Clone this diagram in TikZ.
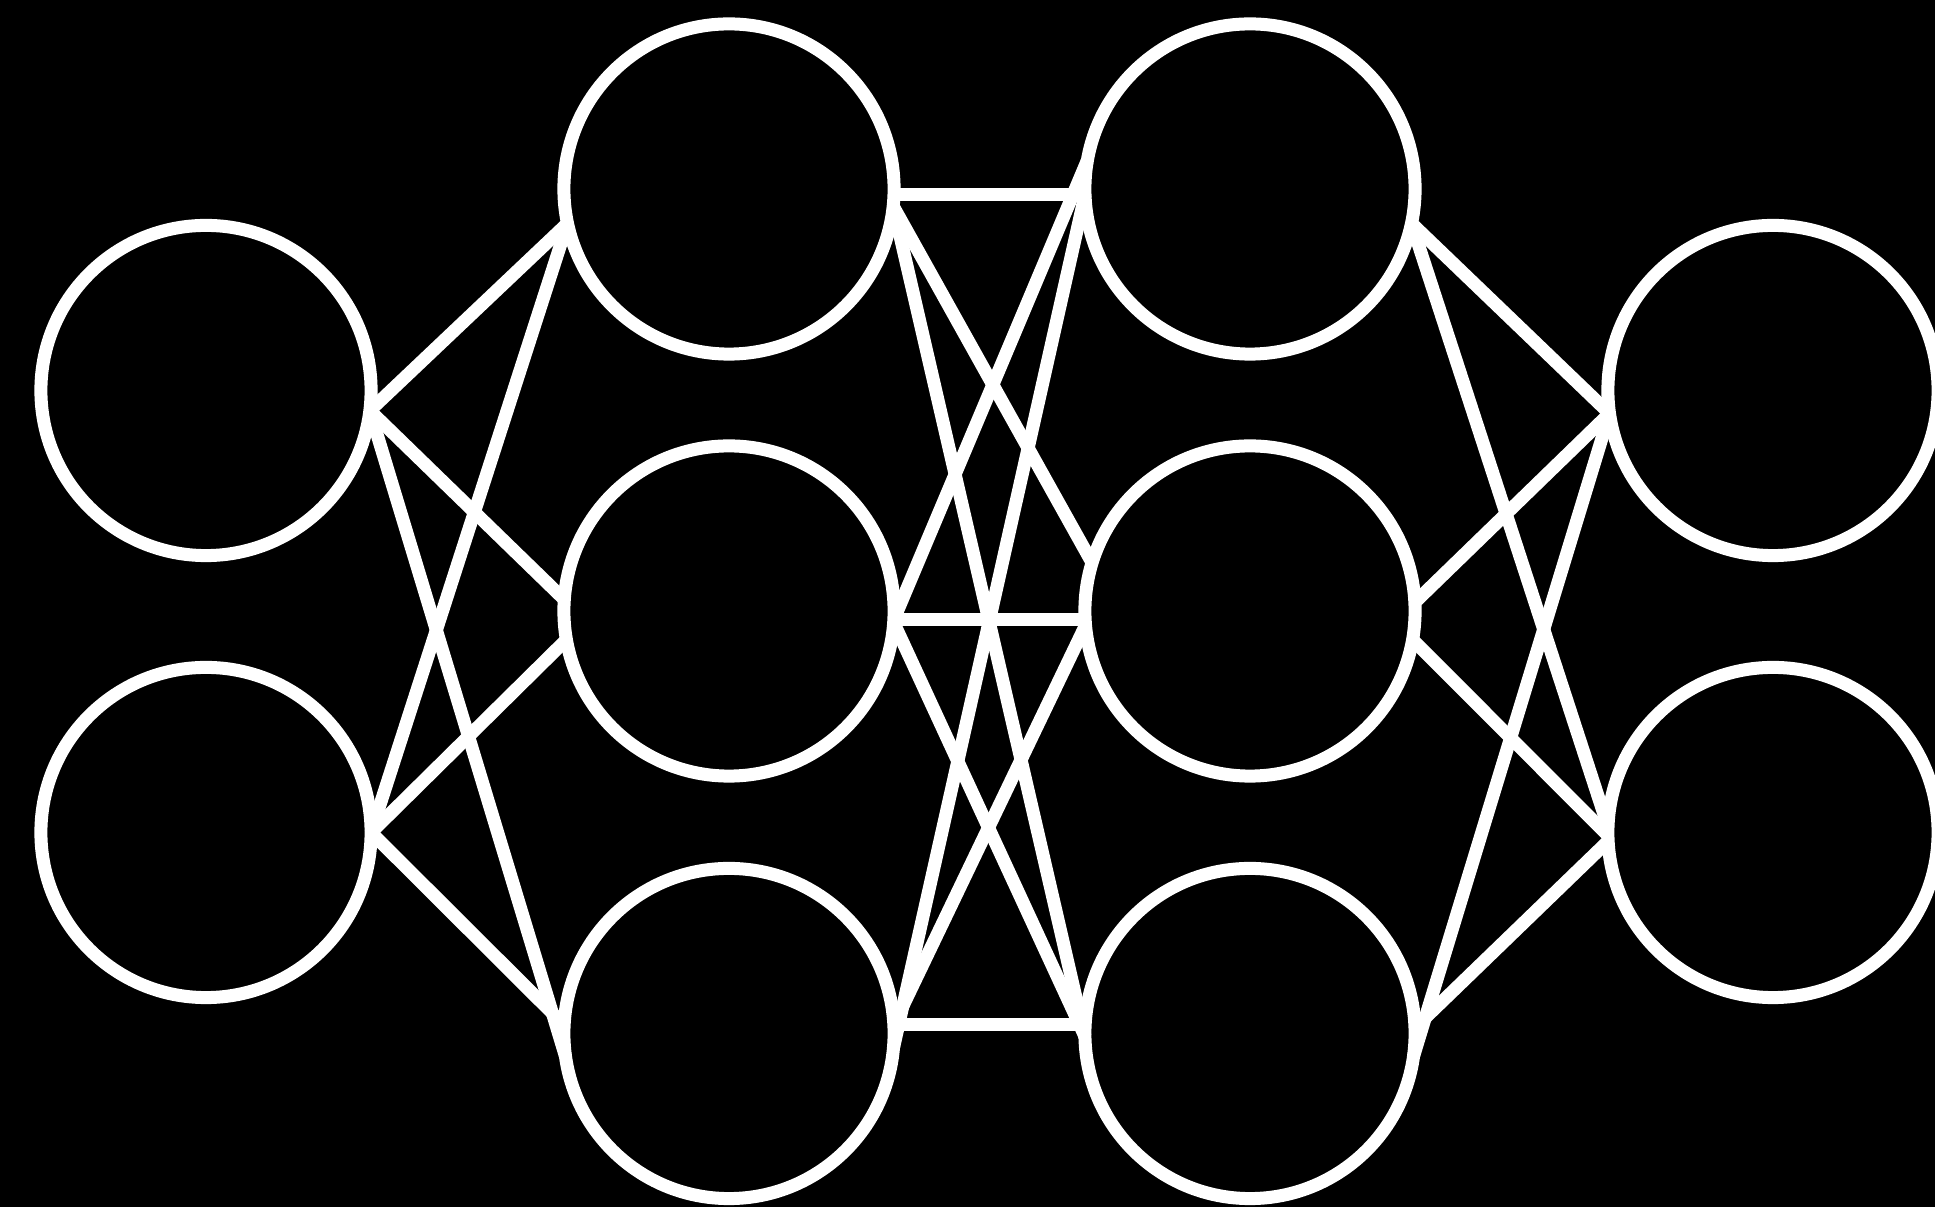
\documentclass[tikz,border=0pt]{standalone}
\begin{document}
\begin{tikzpicture}[x=0.01cm,y=-0.01cm,
  neuron/.style={circle,draw=white,line width=0.13cm,minimum size=3.3cm,inner sep=0pt,outer sep=0pt,fill=black},
  link/.style={draw=white,line width=0.13cm}]
\useasboundingbox (0,0) rectangle (1935,1207);
\fill[black] (0,0) rectangle (1935,1207);
% layer 1
\node[neuron] (a1) at (206,390.5) {};
\node[neuron] (a2) at (206,832.5) {};
% layer 2
\node[neuron] (b1) at (729,189) {};
\node[neuron] (b2) at (729,611) {};
\node[neuron] (b3) at (729,1033.5) {};
% layer 3
\node[neuron] (c1) at (1250,189) {};
\node[neuron] (c2) at (1250,611) {};
\node[neuron] (c3) at (1250,1033.5) {};
% layer 4
\node[neuron] (d1) at (1773,390.5) {};
\node[neuron] (d2) at (1773,832.5) {};
% layer 1 -> 2
\draw[link] (a1.-7) -- (b1.192);
\draw[link] (a1.-7) -- (b2.176);
\draw[link] (a1.-7) -- (b3.188);
\draw[link] (a2.0) -- (b1.192);
\draw[link] (a2.0) -- (b2.190);
\draw[link] (a2.0) -- (b3.177);
% layer 2 -> 3
\draw[link] (b1.-2) -- (c1.182);
\draw[link] (b1.-6) -- (c2.163);
\draw[link] (b1.-6) -- (c3.181);
\draw[link] (b2.-3) -- (c2.183);
\draw[link] (b2.-3) -- (c1.170);
\draw[link] (b2.-4) -- (c3.181);
\draw[link] (b3.3) -- (c3.177);
\draw[link] (b3.-5) -- (c1.182);
\draw[link] (b3.3) -- (c2.185);
% layer 3 -> 4
\draw[link] (c1.-12.5) -- (d1.188);
\draw[link] (c1.-12.5) -- (d2.178);
\draw[link] (c2.3) -- (d1.188);
\draw[link] (c2.-10.5) -- (d2.181);
\draw[link] (c3.2) -- (d2.183);
\draw[link] (c3.-8) -- (d1.188);
\end{tikzpicture}
\end{document}
